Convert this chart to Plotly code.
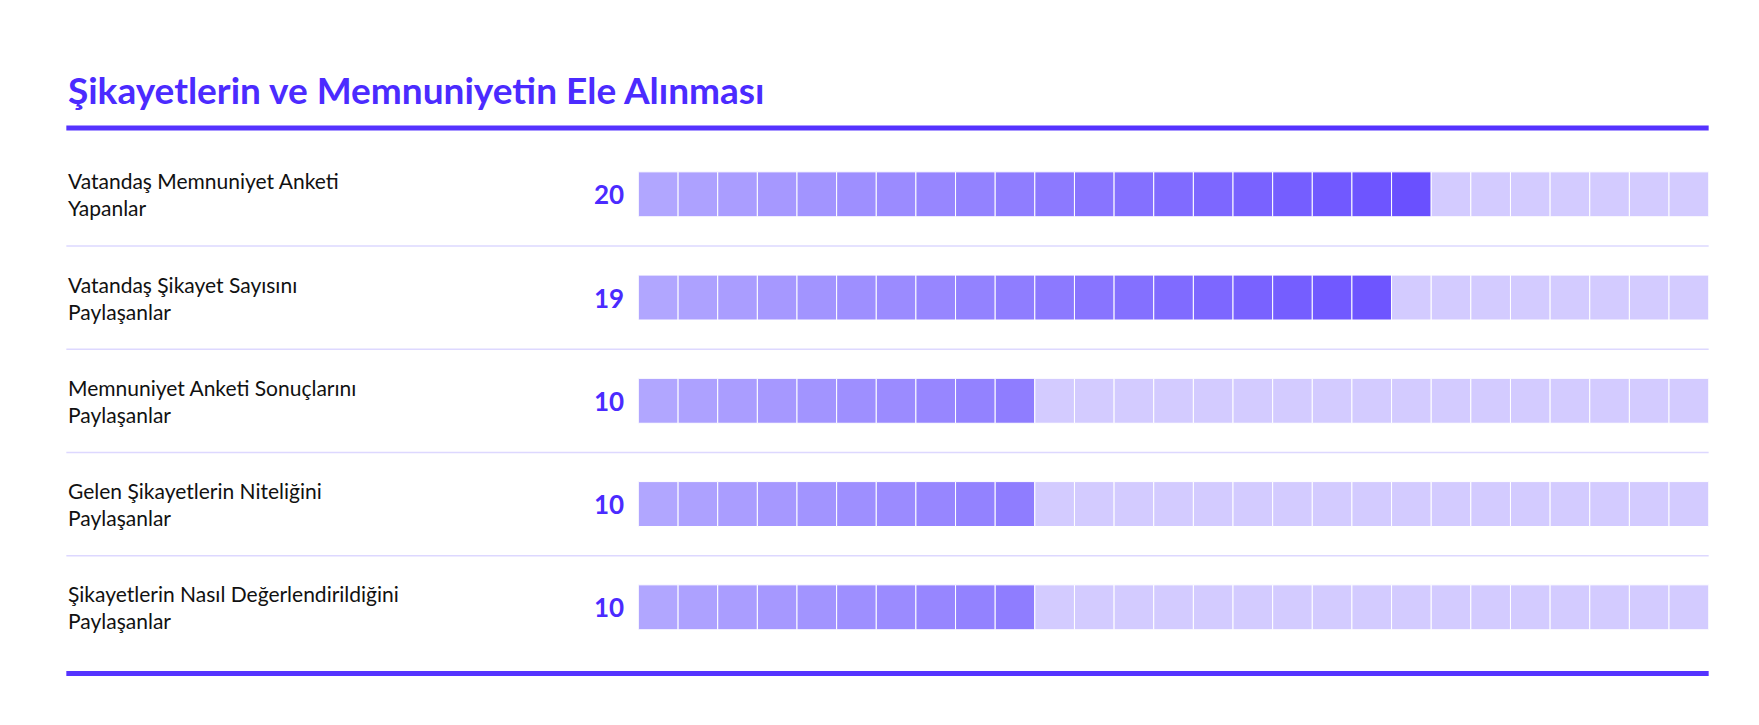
import plotly.graph_objects as go

title = "Şikayetlerin ve Memnuniyetin Ele Alınması"
labels = [
    "Vatandaş Memnuniyet Anketi<br>Yapanlar",
    "Vatandaş Şikayet Sayısını<br>Paylaşanlar",
    "Memnuniyet Anketi Sonuçlarını<br>Paylaşanlar",
    "Gelen Şikayetlerin Niteliğini<br>Paylaşanlar",
    "Şikayetlerin Nasıl Değerlendirildiğini<br>Paylaşanlar",
]
values = [20, 19, 10, 10, 10]
total_cells = 27

W, H = 1759, 725
RW, RH = 1568, 646  # measuring scale of the reference
light = (177, 166, 255)
dark = (106, 80, 255)
empty = "#d3cbff"


def cell_color(i):
    t = min(i / 19, 1)
    c = [round(light[k] + (dark[k] - light[k]) * t) for k in range(3)]
    return "rgb(%d,%d,%d)" % tuple(c)


ys, bases, colors = [], [], []
for r, v in enumerate(values):
    for i in range(total_cells):
        ys.append(r)
        bases.append(i)
        colors.append(cell_color(i) if i < v else empty)

fig = go.Figure(
    go.Bar(
        orientation="h",
        y=ys,
        x=[1] * len(ys),
        base=bases,
        width=0.435,
        marker=dict(color=colors, line=dict(color="white", width=1)),
        hoverinfo="skip",
    )
)

x0, x1 = 562 / RW, 1516 / RW
left = 52 / RW
fig.update_layout(
    width=W,
    height=H,
    margin=dict(l=0, r=0, t=0, b=0),
    paper_bgcolor="white",
    plot_bgcolor="white",
    showlegend=False,
    font=dict(family="Lato", color="black"),
    xaxis=dict(domain=[x0, x1], range=[0, total_cells], visible=False, fixedrange=True),
    yaxis=dict(domain=[1 - 580 / RH, 1 - 120 / RH], range=[4.5, -0.5], visible=False),
)

fig.add_annotation(
    text="<b>" + title + "</b>", xref="paper", yref="paper", x=left, y=1 - 73 / RH,
    xanchor="left", yanchor="middle", showarrow=False,
    font=dict(size=37, color="#4b2bff", family="Lato"),
)

for r, (lab, v) in enumerate(zip(labels, values)):
    fig.add_annotation(
        text=lab, xref="paper", yref="y", x=left, y=r, xanchor="left", yanchor="middle",
        align="left", showarrow=False, font=dict(size=21, color="#111"),
    )
    fig.add_annotation(
        text="<b>%d</b>" % v, xref="paper", yref="y", x=551 / RW, y=r, xanchor="right",
        yanchor="middle", showarrow=False, font=dict(size=26, color="#4b2bff"),
    )

for r in range(len(values) - 1):
    fig.add_shape(type="line", xref="paper", yref="y", x0=left, x1=x1, y0=r + 0.5, y1=r + 0.5,
                  line=dict(color="#ddd8ff", width=1.5))

for yp in (107, 593):
    fig.add_shape(type="line", xref="paper", yref="paper", x0=left, x1=x1,
                  y0=1 - yp / RH, y1=1 - yp / RH, line=dict(color="#5533ff", width=5))

fig.write_html("out.html")
